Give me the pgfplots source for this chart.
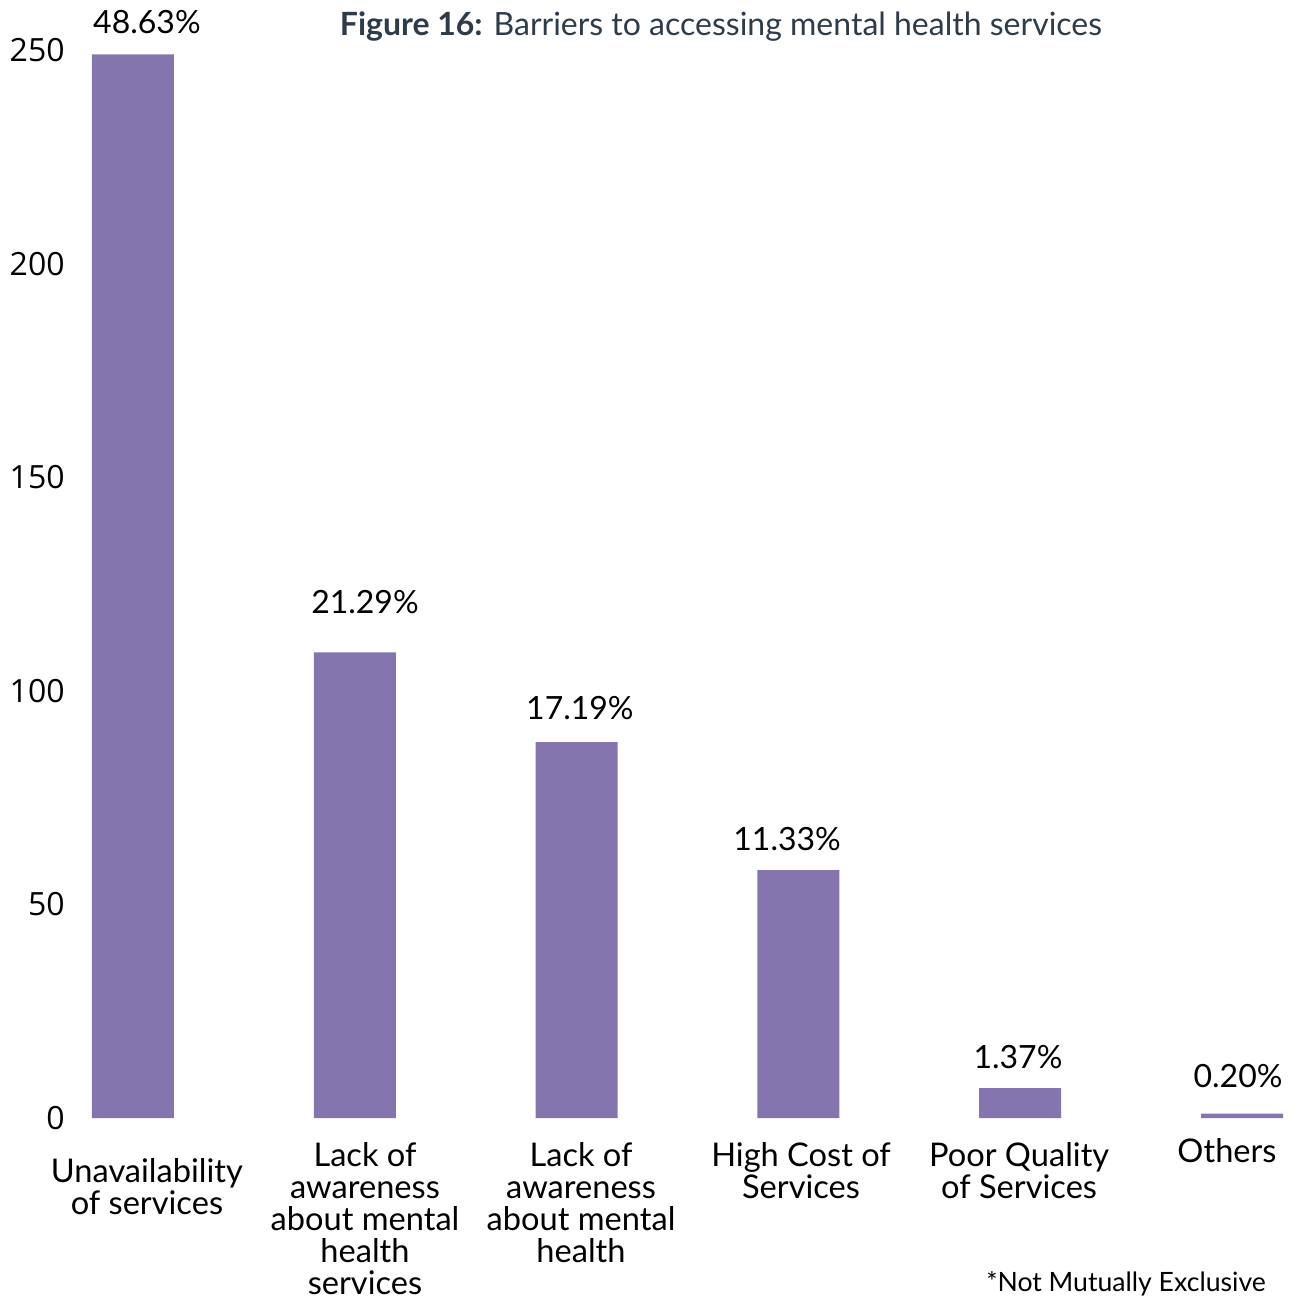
\documentclass[border=0pt]{standalone}
\usepackage{pgfplots}
\pgfplotsset{compat=1.18}
\usepackage{fontspec}
\setmainfont{Lato}
\newfontfamily\tickfont{Open Sans}
\definecolor{barc}{HTML}{8575AF}
\definecolor{titlec}{HTML}{2E3C4A}
\begin{document}
\begin{tikzpicture}
\begin{axis}[
  at={(0,0)}, anchor=south west,
  scale only axis, width=598.9pt, height=534pt,
  xmin=-0.2, xmax=5.2, ymin=0, ymax=250,
  axis line style={draw=none}, major tick length=0pt,
  xtick=\empty, ytick={0,50,100,150,200,250},
  /pgf/number format/assume math mode=true,
  yticklabel style={anchor=east, inner sep=0pt, xshift=-11.8pt, font=\tickfont\fontsize{16}{16}\selectfont},
  ybar, bar width=41pt, clip=false,
]
\addplot[fill=barc, draw=none] coordinates {(0,249) (1,109) (2,88) (3,58) (4,7) (5,1)};
\begin{scope}[every node/.style={font=\fontsize{16}{16}\selectfont, align=center, inner sep=0pt}]
\node at (axis cs:0.063,256.6) {48.63\%};
\node at (axis cs:1.046,120.8) {21.29\%};
\node at (axis cs:2.015,96.0) {17.19\%};
\node at (axis cs:2.949,65.3) {11.33\%};
\node at (axis cs:3.990,14.3) {1.37\%};
\node at (axis cs:4.982,9.8) {0.20\%};
\end{scope}
\begin{scope}[every node/.style={font=\fontsize{16.3}{16}\selectfont, align=center, inner sep=0pt}]
\node at (axis cs:0.063,-16.15) {Unavailability\\of services};
\node at (axis cs:1.046,-23.64) {Lack of\\awareness\\about mental\\health\\services};
\node at (axis cs:2.020,-19.9) {Lack of\\awareness\\about mental\\health};
\node at (axis cs:3.012,-12.4) {High Cost of\\Services};
\node at (axis cs:3.995,-12.4) {Poor Quality\\of Services};
\node at (axis cs:4.932,-7.7) {Others};
\end{scope}
\node[font=\fontsize{13.3}{14}\selectfont, inner sep=0pt] at (axis cs:4.477,-38.9) {*Not Mutually Exclusive};
\node[font=\fontsize{16}{16}\selectfont, text=titlec, inner sep=0pt] at (axis cs:2.651,255.6) {\textbf{Figure 16:} Barriers to accessing mental health services};
\end{axis}
\pgfresetboundingbox
\path (-44.3pt,-93pt) rectangle (607.2pt,559pt);
\end{tikzpicture}
\end{document}
